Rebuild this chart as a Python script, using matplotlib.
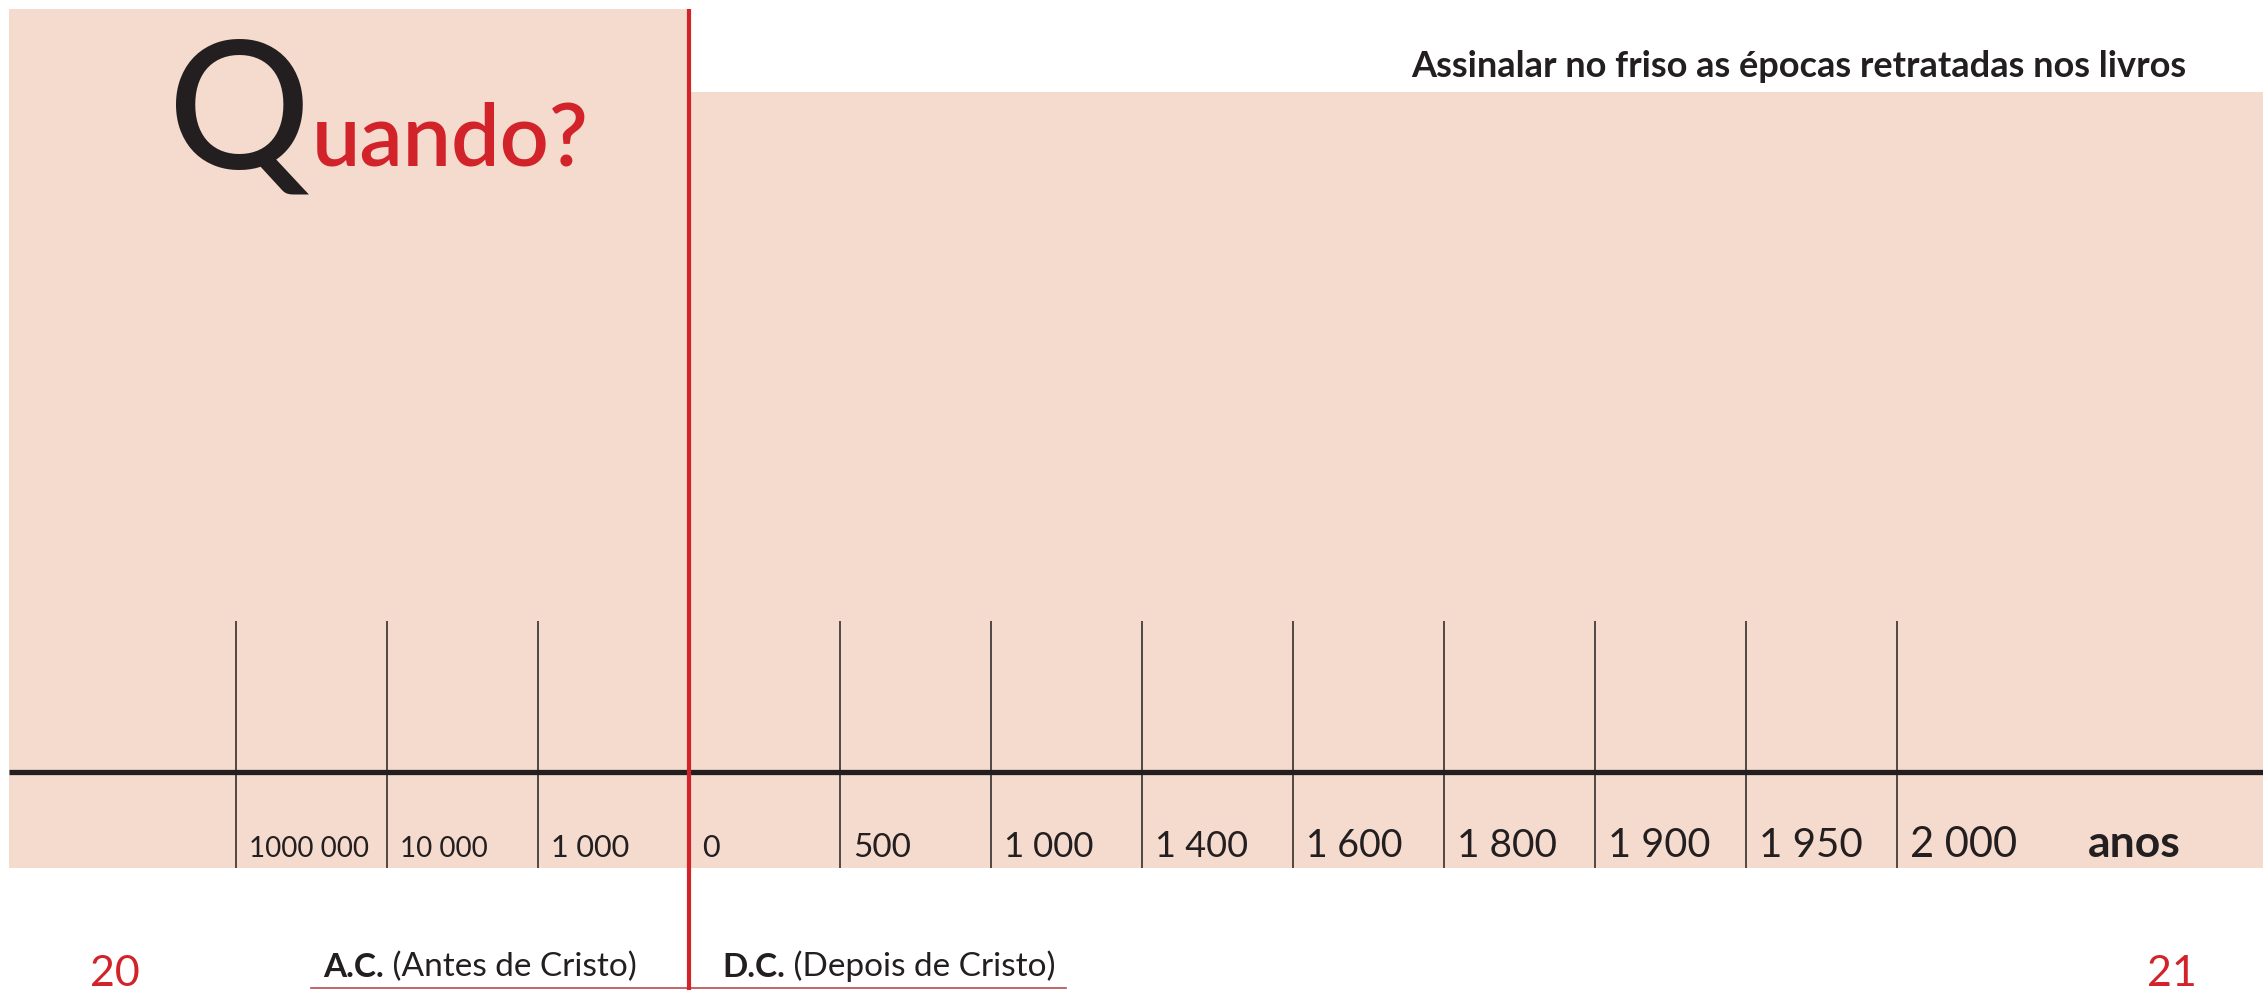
import matplotlib
matplotlib.use("Agg")
import matplotlib.pyplot as plt
from matplotlib.patches import Rectangle

# dados do friso
marcos = ['1000 000', '10 000', '1 000', '0', '500', '1 000', '1 400',
          '1 600', '1 800', '1 900', '1 950', '2 000']
unidade = 'anos'
titulo = 'Assinalar no friso as épocas retratadas nos livros'
antes = ['A.C.', ' (Antes de Cristo)']
depois = ['D.C.', ' (Depois de Cristo)']
paginas = ['20', '21']

# cores
ROSA = '#F5DACE'
VERMELHO = '#D2232A'
PRETO = '#231F20'

plt.rcParams['font.family'] = ['Lato', 'DejaVu Sans']

W, H = 2263, 990
fig = plt.figure(figsize=(W / 100, H / 100), dpi=100)

# fundo em pixeis
bg = fig.add_axes([0, 0, 1, 1])
bg.set_xlim(0, W)
bg.set_ylim(H, 0)
bg.axis('off')
bg.add_patch(Rectangle((9, 9), 689 - 9, 868 - 9, color=ROSA, lw=0))
bg.add_patch(Rectangle((689, 92), W - 689, 868 - 92, color=ROSA, lw=0))
bg.plot([9, W], [772, 772], color=PRETO, lw=3.8, solid_capstyle='butt')

# titulo "Quando?"
bg.text(168, 168, 'Q', fontsize=128, color=PRETO, va='baseline', fontweight='medium')
bg.text(312, 165, 'uando?', fontsize=62, color=VERMELHO, va='baseline',
        fontweight='semibold')
bg.text(2186, 77, titulo, fontsize=26, fontweight='bold', color=PRETO,
        ha='right', va='baseline')

# friso: um marco por posicao
ax = fig.add_axes([0, 0, 1, 1], facecolor='none')
passo, x0 = 151, 236
ax.set_xlim(-x0 / passo, (W - x0) / passo)
ax.set_ylim(H, 0)
ax.axis('off')

i_zero = marcos.index('0')
outros = [i for i in range(len(marcos)) if i != i_zero]
ax.vlines(outros, 621, 868, color=PRETO, lw=1.1)
ax.vlines(i_zero, 9, H, color=VERMELHO, lw=3, zorder=5)

tamanhos = [20, 20, 22, 22, 24, 25, 26, 27, 28, 28.5, 29, 30]
for i, (txt, fs) in enumerate(zip(marcos, tamanhos)):
    ax.annotate(txt, (i, 857), xytext=(9.4, 0), textcoords='offset points',
                fontsize=fs, color=PRETO, ha='left', va='baseline')
bg.text(2088, 857, unidade, fontsize=32, fontweight='bold', color=PRETO, va='baseline')

# rodape
bg.text(90, 986, paginas[0], fontsize=31, color=VERMELHO, va='baseline')
bg.text(2147, 986, paginas[1], fontsize=31, color=VERMELHO, va='baseline')
for x, (neg, resto) in [(323, antes), (722, depois)]:
    t = bg.text(x, 977, neg, fontsize=24, fontweight='bold', color=PRETO, va='baseline')
    bg.annotate(resto, xy=(1, 0), xycoords=t, fontsize=24, color=PRETO,
                ha='left', va='bottom')
bg.plot([311, 1066], [988, 988], color='#B84A4E', lw=1.2)

fig.savefig('out.png', dpi=100)
